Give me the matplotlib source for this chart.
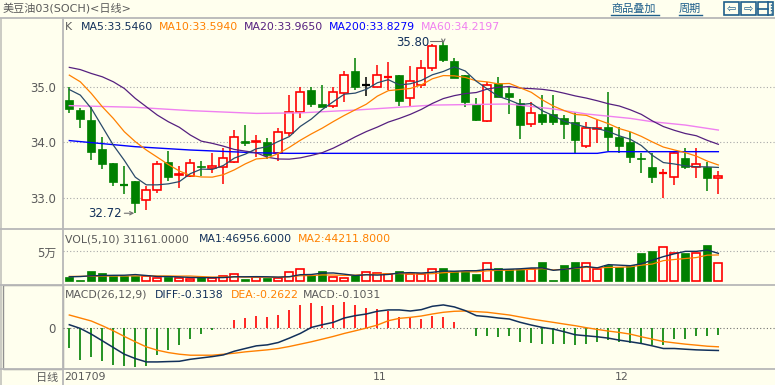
import numpy as np
import matplotlib.pyplot as plt
import matplotlib.transforms as mtransforms
from matplotlib.patches import Rectangle

plt.rcParams['font.family'] = ['DejaVu Sans', 'Noto Sans CJK SC']

# ---- daily candles ----
opens = [34.76, 34.58, 34.41, 33.87, 33.62, 33.24, 33.30, 32.96, 33.14, 33.64,
         33.41, 33.39, 33.58, 33.54, 33.56, 33.64, 34.02, 34.00, 34.00, 33.81,
         34.16, 34.54, 34.94, 34.69, 34.66, 34.88, 35.28, 35.03, 35.00, 35.17,
         35.21, 34.79, 35.04, 35.33, 35.75, 35.46, 35.21, 34.69, 34.39, 35.06,
         34.88, 34.70, 34.33, 34.51, 34.51, 34.43, 34.36, 33.94, 34.24, 34.28,
         34.09, 34.00, 33.71, 33.55, 33.44, 33.37, 33.72, 33.56, 33.56, 33.36]
highs = [35.00, 34.61, 34.64, 34.10, 33.62, 33.58, 33.30, 33.22, 33.66, 33.84,
         33.58, 33.70, 33.66, 33.80, 33.90, 34.22, 34.31, 34.13, 34.08, 34.25,
         34.85, 35.00, 35.00, 35.03, 35.00, 35.28, 35.51, 35.17, 35.40, 35.45,
         35.21, 35.38, 35.48, 35.77, 35.80, 35.51, 35.21, 34.79, 35.09, 35.18,
         35.00, 34.78, 34.72, 34.85, 34.85, 34.49, 34.54, 34.36, 34.40, 34.91,
         34.27, 34.19, 33.81, 33.80, 33.51, 33.83, 33.89, 33.89, 33.64, 33.48]
lows = [34.53, 34.25, 33.68, 33.52, 33.21, 33.07, 32.72, 32.78, 33.08, 33.31,
        33.17, 33.37, 33.40, 33.45, 33.25, 33.63, 33.93, 33.74, 33.70, 33.66,
        34.11, 34.43, 34.64, 34.63, 34.61, 34.73, 34.94, 34.83, 35.00, 34.94,
        34.66, 34.64, 34.97, 35.28, 35.45, 35.16, 34.64, 34.38, 34.37, 34.82,
        34.51, 34.05, 34.28, 34.31, 34.31, 34.05, 33.80, 33.90, 33.99, 33.84,
        33.81, 33.63, 33.45, 33.27, 32.99, 33.23, 33.51, 33.36, 33.13, 33.07]
closes = [34.60, 34.42, 33.83, 33.61, 33.28, 33.23, 32.90, 33.14, 33.61, 33.37,
          33.43, 33.62, 33.55, 33.58, 33.72, 34.10, 33.98, 34.03, 33.77, 34.19,
          34.54, 34.90, 34.69, 34.63, 34.90, 35.21, 35.00, 35.03, 35.22, 35.18,
          34.74, 35.10, 35.33, 35.73, 35.48, 35.16, 34.72, 34.41, 35.03, 34.82,
          34.82, 34.31, 34.52, 34.37, 34.37, 34.32, 34.04, 34.25, 34.255, 34.10,
          33.93, 33.73, 33.69, 33.37, 33.45, 33.80, 33.56, 33.61, 33.36, 33.40]

# moving averages before enough visible history exists
ma5_head = [34.95, 34.85, 34.61, 34.28]
ma10_head = [35.21, 35.09, 34.88, 34.64, 34.43, 34.19, 34.01, 33.86, 33.73]
ma20_head = [35.35, 35.31, 35.24, 35.18, 35.09, 34.97, 34.79, 34.64, 34.49, 34.37,
             34.27, 34.13, 34.02, 33.98, 33.93, 33.87, 33.84, 33.81, 33.73]
ma60_idx = [0, 6, 11, 17, 21, 26, 33, 40, 44, 47, 51, 53, 56, 59]
ma60_val = [34.66, 34.63, 34.57, 34.52, 34.53, 34.58, 34.67, 34.69, 34.60, 34.51,
            34.43, 34.37, 34.31, 34.22]
ma200_idx = [0, 6, 11, 17, 20, 48, 49, 59]
ma200_val = [34.03, 33.92, 33.86, 33.81, 33.80, 33.80, 33.83, 33.83]

# ---- volume ----
volume = [8333, 3333, 16667, 14444, 8889, 8889, 8889, 8889, 6111, 8333,
          6111, 4444, 7222, 6111, 8889, 12778, 4444, 8333, 5000, 6111,
          16111, 21111, 10000, 16667, 7222, 6111, 10000, 16111, 13889, 12778,
          18333, 12778, 12778, 20000, 23333, 16667, 16667, 13333, 31111, 21667,
          20000, 20000, 20000, 31667, 1667, 28333, 31667, 31111, 21111, 28333,
          23900, 27200, 47300, 50600, 58300, 47300, 47800, 47300, 61200, 31161]
vma5_head = [7800, 8300, 9500, 10000]
vma10_head = [8500, 8600, 8800, 9000, 9200, 9300, 9400, 9400, 9300]

# ---- MACD(26,12,9) ----
diff = [0.047, -0.005, -0.085, -0.178, -0.272, -0.366, -0.427, -0.474, -0.474, -0.469,
        -0.465, -0.437, -0.418, -0.399, -0.376, -0.324, -0.286, -0.249, -0.235, -0.202,
        -0.141, -0.075, 0.009, 0.047, 0.080, 0.141, 0.174, 0.197, 0.235, 0.254,
        0.254, 0.239, 0.258, 0.305, 0.324, 0.296, 0.244, 0.174, 0.160, 0.141,
        0.127, 0.080, 0.042, 0.009, -0.014, -0.052, -0.094, -0.108, -0.122, -0.141,
        -0.169, -0.192, -0.216, -0.249, -0.286, -0.286, -0.296, -0.305, -0.310, -0.3138]
dea = [0.183, 0.141, 0.099, 0.033, -0.038, -0.117, -0.192, -0.263, -0.310, -0.343,
       -0.366, -0.380, -0.380, -0.380, -0.366, -0.352, -0.333, -0.319, -0.305, -0.286,
       -0.258, -0.225, -0.192, -0.155, -0.117, -0.075, -0.038, 0.000, 0.042, 0.103,
       0.136, 0.150, 0.169, 0.197, 0.221, 0.235, 0.239, 0.230, 0.221, 0.202,
       0.183, 0.155, 0.127, 0.103, 0.080, 0.056, 0.033, 0.005, -0.019, -0.042,
       -0.061, -0.085, -0.122, -0.155, -0.188, -0.207, -0.225, -0.239, -0.254, -0.2622]
macd = [-0.272, -0.446, -0.400, -0.460, -0.516, -0.530, -0.540, -0.530, -0.380, -0.305,
        -0.235, -0.146, -0.089, -0.028, -0.005, 0.108, 0.146, 0.174, 0.160, 0.188,
        0.258, 0.329, 0.347, 0.315, 0.329, 0.361, 0.329, 0.282, 0.268, 0.244,
        0.160, 0.136, 0.127, 0.174, 0.160, 0.089, 0.005, -0.108, -0.108, -0.122,
        -0.117, -0.188, -0.202, -0.216, -0.216, -0.216, -0.235, -0.216, -0.188, -0.169,
        -0.188, -0.202, -0.202, -0.235, -0.235, -0.155, -0.146, -0.108, -0.117, -0.1031]

month_labels = ['201709', '11', '12']
month_start = [0, 28, 50]


def rolling_mean(vals, n):
    return np.convolve(np.asarray(vals, dtype=float), np.ones(n) / n, mode='valid')


ma5 = np.concatenate([ma5_head, rolling_mean(closes, 5)])
ma10 = np.concatenate([ma10_head, rolling_mean(closes, 10)])
ma20 = np.concatenate([ma20_head, rolling_mean(closes, 20)])
vma5 = np.concatenate([vma5_head, rolling_mean(volume, 5)])
vma10 = np.concatenate([vma10_head, rolling_mean(volume, 10)])

# ---- colours ----
BG = '#FFFFEE'
RED = '#FF0000'
GREEN = '#008000'
GRAY = '#5A5A5A'
NAVY = '#12305A'
SLATE = '#2A4A6A'
ORANGE = '#FF8000'
PURPLE = '#55207F'
BLUE = '#0000FF'
PINK = '#F080F0'
LINK = '#1F5F8B'
SEP = '#B8B8B8'

W, H = 775, 385
fig = plt.figure(figsize=(W / 100, H / 100), dpi=100, facecolor=BG)

bg = fig.add_axes([0, 0, 1, 1], zorder=0)
bg.set_xlim(0, W)
bg.set_ylim(H, 0)
bg.axis('off')

# frame lines
for yy in [17.5, 228.5, 284.5, 369]:
    bg.plot([0, W], [yy, yy], color=SEP, lw=1.3)
bg.plot([63, 63], [18, H], color=SEP, lw=1.3)
bg.add_patch(Rectangle((0, 18), 2, H - 18, facecolor='#CCCCC4', edgecolor='none'))
bg.add_patch(Rectangle((2.5, 285), 60, 83.5, facecolor='none', edgecolor='#909090', lw=1))

# header
bg.text(3, 8.5, '美豆油03(SOCH)<日线>', fontsize=8, color=GRAY, va='center')
bg.text(611, 8.5, '商品叠加', fontsize=8, color=LINK, va='center')
bg.plot([611, 659], [15, 15], color=LINK, lw=1)
bg.text(679, 8.5, '周期', fontsize=8, color=LINK, va='center')
bg.plot([679, 702], [15, 15], color=LINK, lw=1)
for x0 in [724, 741, 758]:
    bg.add_patch(Rectangle((x0, 2), 15, 13, facecolor='none', edgecolor=LINK, lw=1.2))
bg.text(731.5, 8.5, '⇦', fontsize=8, color=LINK, ha='center', va='center')
bg.text(748.5, 8.5, '⇨', fontsize=8, color=LINK, ha='center', va='center')
bg.plot([758, 768], [8.5, 8.5], color=LINK, lw=1.2)
bg.plot([768, 768], [2, 15], color=LINK, lw=1.2)
bg.plot([770.5, 770.5], [4, 13], color=LINK, lw=1, linestyle=(0, (1, 1)))


def panel(y0, y1):
    ax = fig.add_axes([63 / W, 1 - y1 / H, (W - 63) / W, (y1 - y0) / H], zorder=1)
    ax.set_facecolor('none')
    for s in ax.spines.values():
        s.set_visible(False)
    ax.set_xlim(-0.573, 64.15)
    ax.set_xticks([])
    ax.tick_params(axis='y', length=0, pad=5, labelsize=8.5, labelcolor=GRAY)
    return ax


x = np.arange(len(closes))
bw = 0.72

# ---- price panel ----
ax = panel(18, 228.5)
ax.set_ylim(32.445, 36.24)
ax.set_yticks([33, 34, 35])
ax.set_yticklabels(['33.0', '34.0', '35.0'])
ax.yaxis.grid(True, color='#A8A8A8', lw=0.8, linestyle=(0, (1, 2)))
ax.set_axisbelow(True)

for i in x:
    o, h, l, c = opens[i], highs[i], lows[i], closes[i]
    col = RED if c > o else (GREEN if c < o else 'black')
    top, bot = max(o, c), min(o, c)
    if top - bot < 0.012:
        ax.vlines(i, l, h, color=col, lw=1.1, zorder=2)
        ax.hlines((o + c) / 2, i - bw / 2, i + bw / 2, color=col, lw=1.6, zorder=2)
    elif col == RED:
        ax.vlines(i, top, h, color=col, lw=1.1, zorder=2)
        ax.vlines(i, l, bot, color=col, lw=1.1, zorder=2)
        ax.add_patch(Rectangle((i - bw / 2, bot), bw, top - bot, facecolor=BG,
                               edgecolor=col, lw=1.2, zorder=2))
    else:
        ax.vlines(i, l, h, color=col, lw=1.1, zorder=2)
        ax.add_patch(Rectangle((i - bw / 2, bot), bw, top - bot, facecolor=col,
                               edgecolor=col, lw=0.5, zorder=2))

ax.plot(ma200_idx, ma200_val, color=BLUE, lw=1.0, zorder=3)
ax.plot(ma60_idx, ma60_val, color=PINK, lw=1.0, zorder=3)
ax.plot(x, ma20, color=PURPLE, lw=0.9, zorder=3)
ax.plot(x, ma10, color=ORANGE, lw=0.9, zorder=3)
ax.plot(x, ma5, color=SLATE, lw=0.9, zorder=3)

lo_i = int(np.argmin(lows))
hi_i = int(np.argmax(highs))
ax.annotate(f'{lows[lo_i]:.2f}', xy=(lo_i - 0.1, lows[lo_i]), xytext=(lo_i - 1.25, lows[lo_i]),
            ha='right', va='center', fontsize=8.5, color=NAVY,
            arrowprops=dict(arrowstyle='->', color='#707070', lw=0.8,
                            shrinkA=0, shrinkB=0, mutation_scale=6))
ax.text(hi_i - 1.3, highs[hi_i], f'{highs[hi_i]:.2f}', ha='right', va='center',
        fontsize=8.5, color=NAVY)
ax.annotate('', xy=(hi_i, highs[hi_i] - 0.02), xytext=(hi_i - 1.2, highs[hi_i] + 0.03),
            arrowprops=dict(arrowstyle='->', color='#707070', lw=0.8, shrinkA=0, shrinkB=0,
                            mutation_scale=6,
                            connectionstyle='angle,angleA=0,angleB=90,rad=0'))

legend_main = [(65, 'K', GRAY), (81, 'MA5:33.5460', NAVY), (159, 'MA10:33.5940', ORANGE),
               (244, 'MA20:33.9650', PURPLE), (329, 'MA200:33.8279', BLUE),
               (421, 'MA60:34.2197', PINK)]
for lx, s, col in legend_main:
    bg.text(lx, 27.5, s, fontsize=7.8, color=col, va='center')

# ---- volume panel ----
axv = panel(228.5, 284.5)
axv.set_ylim(-5000, 88333)
axv.set_yticks([50000])
axv.set_yticklabels(['5万'])
axv.yaxis.grid(True, color='#A8A8A8', lw=0.8, linestyle=(0, (1, 2)))
axv.set_axisbelow(True)
for i in x:
    up = closes[i] > opens[i] or (closes[i] == opens[i] and i > 0 and closes[i] >= closes[i - 1])
    if up:
        axv.add_patch(Rectangle((i - bw / 2, 0), bw, volume[i], facecolor=BG,
                                edgecolor=RED, lw=1.2, zorder=2))
    else:
        axv.add_patch(Rectangle((i - bw / 2, 0), bw, volume[i], facecolor=GREEN,
                                edgecolor=GREEN, lw=0.5, zorder=2))
axv.plot(x, vma10, color=ORANGE, lw=0.9, zorder=3)
axv.plot(x, vma5, color=NAVY, lw=1.0, zorder=3)

legend_vol = [(65, 'VOL(5,10) 31161.0000', GRAY), (199, 'MA1:46956.6000', NAVY),
              (298, 'MA2:44211.8000', ORANGE)]
for lx, s, col in legend_vol:
    bg.text(lx, 239, s, fontsize=7.8, color=col, va='center')

# ---- MACD panel ----
axm = panel(284.5, 369)
axm.set_ylim(-0.573, 0.61)
axm.set_yticks([0])
axm.set_yticklabels(['0'])
axm.yaxis.grid(True, color='#707070', lw=0.8, linestyle=(0, (1, 2)))
axm.set_axisbelow(True)
mc = np.array(macd)
axm.vlines(x, 0, mc, colors=[RED if v > 0 else GREEN for v in mc], lw=1.2, zorder=2)
axm.plot(x, dea, color=ORANGE, lw=1.0, zorder=3)
axm.plot(x, diff, color=NAVY, lw=1.1, zorder=3)

legend_macd = [(65, 'MACD(26,12,9)', GRAY), (155, 'DIFF:-0.3138', NAVY),
               (231, 'DEA:-0.2622', ORANGE), (303, 'MACD:-0.1031', GRAY)]
for lx, s, col in legend_macd:
    bg.text(lx, 294.5, s, fontsize=7.8, color=col, va='center')

# ---- date strip ----
bg.text(58, 377.5, '日线', fontsize=8, color=GRAY, ha='right', va='center')
trans = mtransforms.blended_transform_factory(axm.transData, bg.transData)
for pos, lab in zip(month_start, month_labels):
    axm.text(pos - 0.45, 377.5, lab, transform=trans, fontsize=7.8, color=GRAY,
             ha='left', va='center', clip_on=False)

fig.savefig('out.png', dpi=100, facecolor=BG)
